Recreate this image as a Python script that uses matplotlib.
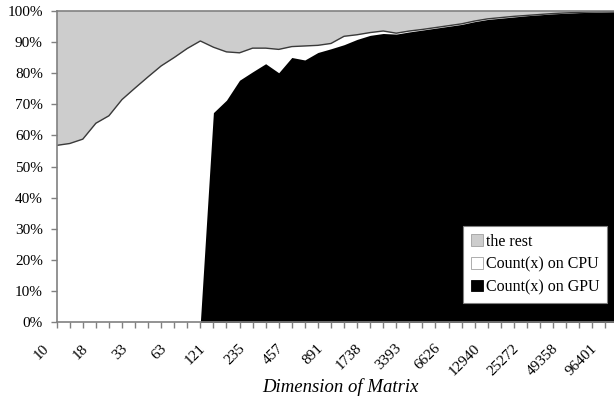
import numpy as np
import matplotlib
matplotlib.use("Agg")
import matplotlib.pyplot as plt
from matplotlib.patches import Patch
from matplotlib import transforms

plt.rcParams['font.family'] = ['Liberation Serif', 'DejaVu Serif']

# matrix dimensions (each step is floor(prev * 1.25))
dimensions = [10, 12, 15, 18, 22, 27, 33, 41, 51, 63, 78, 97, 121, 151, 188,
              235, 293, 366, 457, 571, 713, 891, 1113, 1391, 1738, 2172, 2715,
              3393, 4241, 5301, 6626, 8282, 10352, 12940, 16175, 20218, 25272,
              31590, 39487, 49358, 61697, 77121, 96401, 120501]

# share of Count(x) executed on the GPU (%)
gpu_share = [0, 0, 0, 0, 0, 0, 0, 0, 0, 0, 0, 0,
             67.3, 71.3, 77.7, 80.4, 83.0, 80.1, 85.0, 84.2, 86.6, 87.8,
             89.1, 90.8, 92.1, 92.7, 92.5, 93.2, 93.8, 94.4, 95.0, 95.6,
             96.5, 97.2, 97.6, 98.0, 98.4, 98.7, 99.0, 99.2, 99.4, 99.5,
             99.6, 99.7]

# share of Count(x) executed on the CPU (%)
cpu_share = [56.8, 57.4, 58.8, 63.9, 66.3, 71.5, 75.2, 78.8, 82.3, 85.0,
             87.9, 90.3, 21.0, 15.5, 8.8, 7.6, 5.0, 7.5, 3.5, 4.5, 2.3, 1.7,
             2.7, 1.5, 0.9, 0.8, 0.3, 0.3, 0.2, 0.2, 0.2, 0.2, 0.2, 0.2,
             0.2, 0.2, 0.1, 0.1, 0.1, 0.1, 0.1, 0.1, 0.1, 0.1]

series_names = ["the rest", "Count(x) on CPU", "Count(x) on GPU"]
y_ticks = [0, 10, 20, 30, 40, 50, 60, 70, 80, 90, 100]

x = np.arange(len(dimensions))
gpu = np.array(gpu_share)
cpu_top = gpu + np.array(cpu_share)

fig = plt.figure(figsize=(6.14, 3.98), dpi=100)
ax = fig.add_axes([0.0923, 0.190, 0.9147, 0.783])

rest_color = "#cdcdcd"
ax.fill_between(x, cpu_top, 100, color=rest_color, lw=0)
ax.fill_between(x, gpu, cpu_top, color="white", lw=0)
ax.fill_between(x, 0, gpu, color="black", lw=0)
ax.plot(x, cpu_top, color="#3a3a3a", lw=1.0)

ax.set_xlim(0, len(dimensions) - 1)
ax.set_ylim(0, 100)

ax.set_yticks(y_ticks)
ax.set_yticklabels([f"{v}%" for v in y_ticks], fontsize=11)

# tick mark on every category, rotated label on every third one
ax.set_xticks(x)
ax.set_xticklabels([])
label_tf = (transforms.blended_transform_factory(ax.transData, ax.transAxes)
            + transforms.ScaledTranslation(-10 / 100, -24 / 100,
                                           fig.dpi_scale_trans))
for i in range(0, len(dimensions), 3):
    ax.text(x[i], 0, str(dimensions[i]), transform=label_tf, fontsize=11,
            rotation=45, ha="right", va="center", rotation_mode="anchor",
            clip_on=False)

ax.tick_params(axis="both", colors="#808080", length=4, width=1,
               labelcolor="black")
ax.tick_params(axis="y", pad=6)

ax.spines["right"].set_visible(False)
for side in ["left", "bottom", "top"]:
    ax.spines[side].set_color("#808080")
    ax.spines[side].set_linewidth(1.2)

fig.text(340 / 614, 0.0151, "Dimension of Matrix", fontsize=13.5,
         style="italic", ha="center", va="baseline")

handles = [Patch(facecolor=rest_color, edgecolor="#a0a0a0", lw=0.6),
           Patch(facecolor="white", edgecolor="#a0a0a0", lw=0.6),
           Patch(facecolor="black", edgecolor="black", lw=0.6)]
leg = ax.legend(handles, series_names, loc="lower right",
                bbox_to_anchor=(0.98, 0.062), borderaxespad=0, fontsize=11.5,
                fancybox=False, framealpha=1, edgecolor="#808080",
                handlelength=0.75, handleheight=0.75, handletextpad=0.15,
                labelspacing=0.42, borderpad=0.5)
leg.get_frame().set_linewidth(0.8)

fig.savefig("out.png", dpi=100)
